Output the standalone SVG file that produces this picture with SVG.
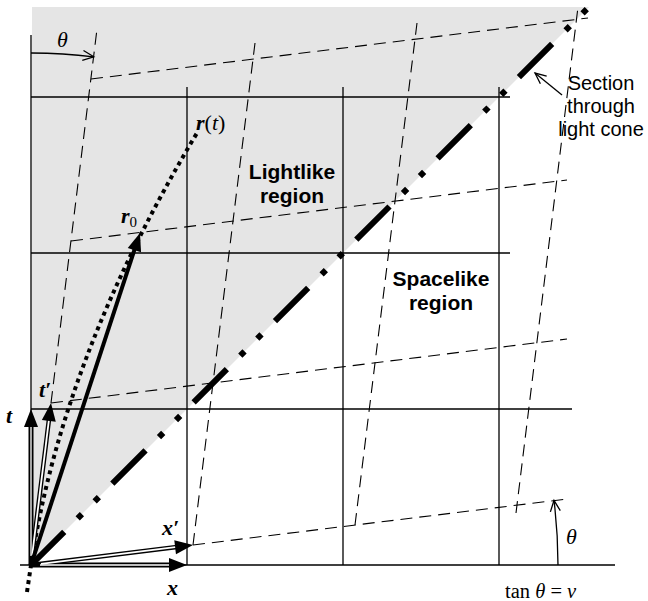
<svg xmlns="http://www.w3.org/2000/svg" width="648" height="601" viewBox="0 0 648 601">
<style>
.grid{stroke:#000;stroke-width:1.3;fill:none}
.dash{stroke:#000;stroke-width:1.1;fill:none;stroke-dasharray:12 7}
.serif{font-family:"Liberation Serif","Times New Roman",serif}
.sans{font-family:"Liberation Sans",Arial,sans-serif}
.lbl{font-family:"Liberation Serif","Times New Roman",serif;font-size:22px;font-weight:bold;font-style:italic}
.reg{font-family:"Liberation Sans",Arial,sans-serif;font-size:21px;font-weight:bold;text-anchor:middle}
.blk{stroke:#000;fill:none}
.wht{stroke:#fff;fill:none}
</style>
<defs>
<path id="head" d="M0,0 L-18,-7 L-18,7 z" fill="#000"/>
<path id="vhead" d="M-11,-5 L0,0 L-11,5" fill="none" stroke="#000" stroke-width="1.3"/>
</defs>
<polygon id="lightlike-area" points="32,7 589,7 31,565" fill="#e5e5e5"/>
<g id="connectors">
<g id="grid">
<line class="grid" x1="31" y1="97" x2="510" y2="97"/>
<line class="grid" x1="31" y1="253" x2="510" y2="253"/>
<line class="grid" x1="31" y1="409" x2="572" y2="409"/>
<line class="grid" x1="20" y1="565" x2="615" y2="565"/>
<line class="grid" x1="31" y1="35" x2="31" y2="565"/>
<line class="grid" x1="187" y1="87" x2="187" y2="565"/>
<line class="grid" x1="343" y1="87" x2="343" y2="565"/>
<line class="grid" x1="499" y1="87" x2="499" y2="565"/>
</g>
<g id="primed-grid">
<line class="dash" x1="193" y1="545" x2="567" y2="499"/>
<line class="dash" x1="51" y1="403" x2="567" y2="339"/>
<line class="dash" x1="71" y1="241" x2="567" y2="180"/>
<line class="dash" x1="91" y1="79" x2="588" y2="18"/>
<line class="dash" x1="51" y1="403" x2="97" y2="29"/>
<line class="dash" x1="193" y1="545" x2="255" y2="43"/>
<line class="dash" x1="355" y1="525" x2="417" y2="23"/>
<line class="dash" x1="516" y1="513" x2="578" y2="7"/>
</g>
<line id="light-cone" x1="31" y1="565" x2="589" y2="7" stroke="#000" stroke-width="6" stroke-dasharray="47 19 6 18 6 19"/>
<path id="trajectory" d="M27,592 L31,565 Q62,358 197,133" fill="none" stroke="#000" stroke-width="4" stroke-dasharray="4 4"/>
<g id="axes">
<line class="blk" stroke-width="5" x1="31" y1="565" x2="31" y2="423"/>
<line class="blk" stroke-width="5" x1="31" y1="565" x2="173" y2="565"/>
<line class="blk" stroke-width="4.5" x1="31" y1="565" x2="49.3" y2="416.9"/>
<line class="blk" stroke-width="4.5" x1="31" y1="565" x2="179.1" y2="546.7"/>
<line class="wht" stroke-width="1.3" x1="31" y1="556" x2="31" y2="423"/>
<line class="wht" stroke-width="1.3" x1="40" y1="565" x2="173" y2="565"/>
<line class="wht" stroke-width="1.8" x1="32.2" y1="555" x2="49.3" y2="416.9"/>
<line class="wht" stroke-width="1.8" x1="41" y1="563.8" x2="179.1" y2="546.7"/>
<use href="#head" transform="translate(31,409) rotate(-90)"/>
<use href="#head" transform="translate(187,565)"/>
<use href="#head" transform="translate(51,403) rotate(-82.96)"/>
<use href="#head" transform="translate(193,545) rotate(-7.04)"/>
</g>
<g id="r0-vector">
<line class="blk" stroke-width="4" x1="31" y1="565" x2="135.6" y2="246.3"/>
<use href="#head" transform="translate(140,233) rotate(-71.83)"/>
</g>
<g id="theta-arcs">
<path class="blk" stroke-width="1.3" d="M31,53 A512,512 0 0,1 93.8,56.8"/>
<use href="#vhead" transform="translate(93.8,56.8) rotate(7.04)"/>
<path class="blk" stroke-width="1.3" d="M558,565 A527,527 0 0,0 554,500.4"/>
<use href="#vhead" transform="translate(554,500.4) rotate(-97.04)"/>
</g>
<g id="section-pointer">
<line class="blk" stroke-width="1.3" x1="562" y1="95" x2="535" y2="73"/>
<use href="#vhead" transform="translate(535,73) rotate(219.2)"/>
</g>
</g>
<g id="labels">
<text class="serif" x="57" y="47" font-size="22" font-style="italic">θ</text>
<text class="serif" x="566" y="544" font-size="22" font-style="italic">θ</text>
<text class="serif" x="505" y="598" font-size="20.5">tan <tspan font-style="italic">θ</tspan> = <tspan font-style="italic">v</tspan></text>
<g id="section-label">
<text class="sans" x="601" y="90" font-size="20" text-anchor="middle">Section</text>
<text class="sans" x="601" y="113" font-size="20" text-anchor="middle">through</text>
<text class="sans" x="601" y="136" font-size="20" text-anchor="middle">light cone</text>
</g>
<g id="lightlike-label">
<text class="reg" x="292" y="179">Lightlike</text>
<text class="reg" x="292" y="203">region</text>
</g>
<g id="spacelike-label">
<text class="reg" x="441" y="286">Spacelike</text>
<text class="reg" x="441" y="310">region</text>
</g>
<text class="serif" x="196" y="130" font-size="22"><tspan font-weight="bold" font-style="italic">r</tspan>(<tspan font-style="italic">t</tspan>)</text>
<text class="lbl" x="121" y="223">r<tspan font-size="15" font-weight="normal" font-style="normal" dy="4">0</tspan></text>
<text class="lbl" x="39" y="397">t′</text>
<text class="lbl" x="6" y="423">t</text>
<text class="lbl" x="162" y="535">x′</text>
<text class="lbl" x="167" y="595">x</text>
</g>
</svg>
